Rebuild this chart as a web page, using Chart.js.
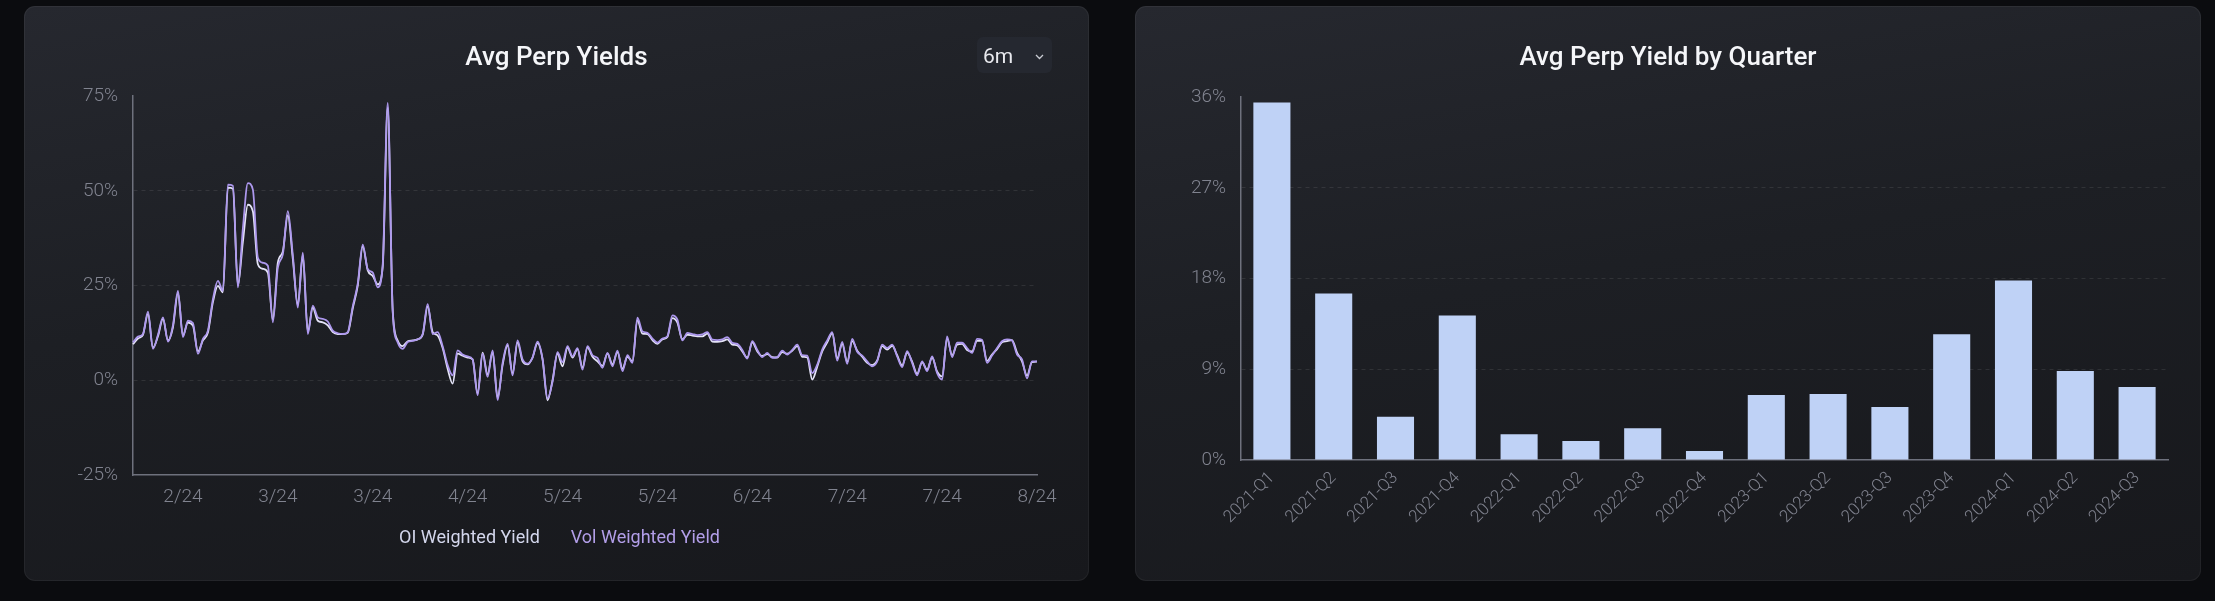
<!DOCTYPE html>
<html>
<head>
<meta charset="utf-8">
<script src="https://cdn.jsdelivr.net/npm/chart.js@4.4.1/dist/chart.umd.min.js"></script>
<style>
html, body { margin: 0; padding: 0; width: 2215px; height: 601px; overflow: hidden; background: #0b0c0f; font-family: Roboto, sans-serif; }
.panel { position: absolute; top: 6px; height: 575px; border-radius: 11px; overflow: hidden;
  background: linear-gradient(170deg, #26282f 0%, #1d1f24 45%, #17181c 100%);
  box-shadow: inset 0 0 0 1px rgba(255,255,255,0.05); }
#p1 { left: 24px; width: 1065px; }
#p2 { left: 1135px; width: 1066px; }
.panel canvas { position: absolute; left: 0; top: 0; }
.title { position: absolute; left: 0; right: 0; top: 35px; text-align: center; color: #f5f6f9; font-size: 26px; line-height: 30px; font-weight: 500; }
.range { position: absolute; left: 953px; top: 31px; width: 75px; height: 36px; border-radius: 6px; background: #252830; }
.range span { position: absolute; left: 6px; top: 0; color: #e8e9ee; font-size: 21px; line-height: 38px; }
.range svg { position: absolute; left: 58px; top: 17px; }
</style>
</head>
<body>
<div class="panel" id="p1">
  <canvas id="yieldChart" width="1065" height="575"></canvas>
  <div class="title">Avg Perp Yields</div>
  <div class="range"><span>6m</span><svg width="9" height="6" viewBox="0 0 9 6"><polyline points="1,1 4.5,4.5 8,1" fill="none" stroke="#c9cbd3" stroke-width="1.3"/></svg></div>
</div>
<div class="panel" id="p2">
  <canvas id="quarterChart" width="1066" height="575"></canvas>
  <div class="title">Avg Perp Yield by Quarter</div>
</div>

<script>
// daily series, first day of the 6m window
var startDay = '2024-02-10';
var tickEvery = 19;

var oiYield = [
  9.5, 11.0, 12.0, 17.5, 8.6, 11.6, 16.2, 10.5, 14.0, 23.0,
  11.8, 15.2, 14.4, 7.6, 10.5, 12.6, 20.6, 24.9, 23.2, 50.8,
  50.5, 25.0, 36.5, 46.3, 44.6, 30.6, 29.4, 28.4, 16.0, 31.0,
  34.0, 43.5, 32.0, 19.8, 33.0, 12.8, 19.2, 15.7, 15.3, 14.5,
  12.7, 12.2, 12.2, 12.5, 19.0, 25.0, 35.3, 29.0, 27.5, 25.3,
  30.0, 72.0, 18.5, 10.5, 9.0, 10.3, 10.5, 10.8, 12.0, 19.5,
  12.7, 11.8, 8.5, 3.0, -0.9, 7.0, 6.5, 6.0, 5.5, -3.5,
  7.3, 1.5, 7.5, -4.6, 4.0, 9.2, 1.8, 10.0, 5.0, 4.2,
  6.0, 9.8, 5.5, -5.3, 0.0, 7.0, 3.7, 8.6, 6.0, 8.2,
  3.3, 8.7, 6.2, 5.0, 3.8, 7.0, 4.2, 7.4, 3.0, 6.2,
  5.0, 15.8, 12.3, 12.2, 10.6, 9.6, 10.8, 11.4, 16.4, 15.2,
  10.8, 12.0, 11.8, 11.6, 11.6, 12.3, 10.2, 10.1, 10.3, 10.8,
  9.4, 9.2, 7.6, 6.0, 10.0, 7.6, 6.4, 6.9, 6.1, 6.0,
  7.4, 7.0, 7.8, 9.0, 6.2, 6.0, 0.2, 3.6, 7.6, 10.0,
  12.4, 5.8, 9.6, 4.8, 10.3, 7.8, 6.2, 4.6, 4.0, 5.2,
  9.0, 8.1, 9.1, 6.6, 3.9, 7.3, 4.9, 1.7, 4.7, 2.8,
  6.0, 2.3, 1.0, 11.0, 6.6, 9.4, 9.6, 8.0, 7.6, 10.4,
  10.4, 5.1, 6.8, 8.2, 10.0, 10.3, 10.6, 7.3, 5.0, 1.2,
  4.8, 4.9
];

var volYield = [
  10.0, 11.5, 12.2, 18.1, 8.3, 12.0, 16.6, 10.2, 14.5, 23.6,
  11.4, 15.7, 15.1, 7.0, 10.9, 13.1, 21.4, 26.2, 23.6, 51.6,
  51.3, 24.5, 40.0, 52.0, 50.3, 32.3, 31.0, 30.2, 15.3, 29.7,
  33.2, 44.6, 33.0, 19.2, 33.7, 12.2, 19.7, 16.6, 16.2, 15.5,
  13.1, 12.4, 12.2, 12.7, 19.5, 25.5, 35.8, 29.3, 28.4, 24.5,
  30.5, 73.2, 18.0, 10.0, 8.3, 10.1, 10.4, 10.8, 12.2, 20.1,
  12.2, 12.7, 9.0, 4.0, 1.3, 7.9, 6.8, 6.3, 5.5, -3.9,
  7.0, 0.9, 7.9, -5.2, 4.5, 9.6, 1.3, 10.5, 5.5, 4.4,
  6.0, 10.2, 5.7, -4.8, -0.4, 7.4, 4.8, 9.0, 6.3, 8.5,
  2.8, 9.0, 6.6, 5.9, 3.3, 7.2, 3.7, 7.8, 2.4, 6.6,
  4.6, 16.5, 12.9, 12.5, 11.0, 9.9, 11.0, 11.6, 17.1, 16.0,
  10.5, 12.5, 12.2, 11.9, 12.1, 12.7, 10.7, 10.6, 10.8, 11.4,
  9.9, 9.6, 8.0, 5.7, 10.3, 8.0, 6.1, 7.2, 5.9, 6.1,
  7.8, 6.8, 8.0, 9.4, 6.6, 6.5, 1.9, 4.1, 8.1, 10.5,
  12.7, 5.2, 10.1, 4.3, 10.9, 7.5, 6.5, 5.0, 3.7, 5.0,
  9.4, 8.5, 9.4, 6.3, 3.5, 7.7, 4.6, 1.3, 5.0, 2.4,
  6.3, 1.9, 0.2, 11.6, 6.1, 9.9, 9.9, 8.5, 7.2, 10.9,
  10.7, 4.6, 6.5, 8.5, 10.3, 10.8, 10.5, 6.8, 5.5, 0.5,
  5.0, 5.0
];

var quarters = ['2021-Q1', '2021-Q2', '2021-Q3', '2021-Q4', '2022-Q1', '2022-Q2', '2022-Q3', '2022-Q4',
                '2023-Q1', '2023-Q2', '2023-Q3', '2023-Q4', '2024-Q1', '2024-Q2', '2024-Q3'];
var quarterYield = [35.45, 16.52, 4.29, 14.34, 2.55, 1.88, 3.14, 0.89, 6.44, 6.54, 5.25, 12.46, 17.81, 8.82, 7.23];

var seriesNames = ['OI Weighted Yield', 'Vol Weighted Yield'];
var lineColors = ['#e4e3f7', '#ad98ee'];
var legendColors = ['#d3d6ec', '#b29ee8'];

var tickColor = '#80838f';
var axisColor = '#6e717d';
var gridColor = 'rgba(255,255,255,0.09)';

Chart.defaults.font.family = 'Roboto, sans-serif';
Chart.defaults.color = tickColor;

// M/YY labels, one per day
var days = [];
var d0 = new Date(startDay + 'T00:00:00Z');
for (var i = 0; i < volYield.length; i++) {
    var d = new Date(d0.getTime() + i * 86400000);
    days.push((d.getUTCMonth() + 1) + '/' + String(d.getUTCFullYear()).slice(2));
}

function innerGrid(min, max) {
    return function(c) {
        if (!c.tick) return 'rgba(0,0,0,0)';
        return (c.tick.value > min && c.tick.value < max) ? gridColor : 'rgba(0,0,0,0)';
    };
}

var tickFont = {size: 19, weight: 300};

new Chart(document.getElementById('yieldChart'), {
    type: 'line',
    data: {
        labels: days,
        datasets: [{
            label: seriesNames[0],
            data: oiYield,
            borderColor: lineColors[0],
            order: 1
        }, {
            label: seriesNames[1],
            data: volYield,
            borderColor: lineColors[1],
            order: 0
        }]
    },
    options: {
        responsive: false,
        animation: false,
        layout: {padding: {left: 49, right: 52, top: 90, bottom: 24}},
        elements: {
            point: {radius: 0},
            line: {borderWidth: 1.8, cubicInterpolationMode: 'monotone'}
        },
        plugins: {
            tooltip: {enabled: false},
            legend: {
                position: 'bottom',
                labels: {
                    boxWidth: 0,
                    boxHeight: 0,
                    padding: 22,
                    font: {size: 18},
                    generateLabels: function(chart) {
                        return chart.data.datasets.map(function(ds, i) {
                            return {text: ds.label, fontColor: legendColors[i], fillStyle: 'rgba(0,0,0,0)',
                                    strokeStyle: 'rgba(0,0,0,0)', lineWidth: 0, hidden: false, datasetIndex: i};
                        });
                    }
                }
            }
        },
        scales: {
            x: {
                grid: {display: false, drawTicks: false},
                border: {display: true, color: axisColor, width: 1.5},
                ticks: {
                    autoSkip: false, maxRotation: 0, minRotation: 0, padding: 11,
                    color: tickColor, font: tickFont,
                    callback: function(val, i) {
                        return (days.length - 1 - i) % tickEvery === 0 ? days[i] : '';
                    }
                },
                afterFit: function(s) { s.height = 32; }
            },
            y: {
                min: -25, max: 75,
                grid: {color: innerGrid(-25, 75), drawTicks: false, lineWidth: 1},
                border: {display: true, color: axisColor, width: 1.5, dash: [4, 4]},
                ticks: {stepSize: 25, padding: 15, color: tickColor, font: tickFont,
                        callback: function(v) { return v + '%'; }},
                afterFit: function(s) { s.width = 60; }
            }
        }
    }
});

new Chart(document.getElementById('quarterChart'), {
    type: 'bar',
    data: {
        labels: quarters,
        datasets: [{
            label: 'Avg Perp Yield',
            data: quarterYield,
            backgroundColor: '#bfd2f6',
            categoryPercentage: 0.8,
            barPercentage: 0.75
        }]
    },
    options: {
        responsive: false,
        animation: false,
        layout: {padding: {left: 46, right: 33, top: 91, bottom: 51}},
        plugins: {legend: {display: false}, tooltip: {enabled: false}},
        scales: {
            x: {
                grid: {display: false, drawTicks: false},
                border: {display: true, color: axisColor, width: 1.5},
                ticks: {autoSkip: false, maxRotation: 45, minRotation: 45, padding: 8,
                        color: tickColor, font: {size: 17, weight: 300}},
                afterFit: function(s) { s.height = 70; }
            },
            y: {
                min: 0, max: 36,
                grid: {color: innerGrid(0, 36), drawTicks: false, lineWidth: 1},
                border: {display: true, color: axisColor, width: 1.5, dash: [4, 4]},
                ticks: {stepSize: 9, padding: 15, color: tickColor, font: tickFont,
                        callback: function(v) { return v + '%'; }},
                afterFit: function(s) { s.width = 60; }
            }
        }
    }
});
</script>
</body>
</html>
